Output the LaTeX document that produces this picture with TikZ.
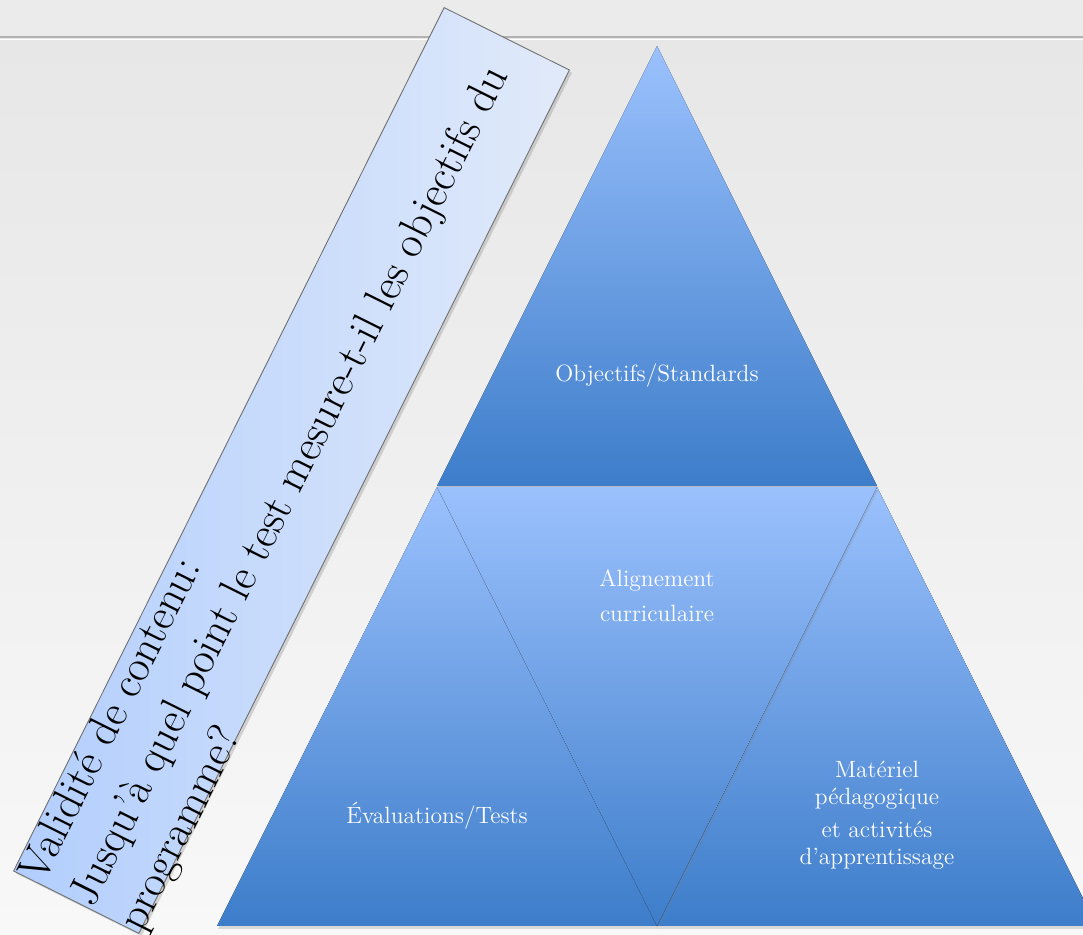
\documentclass[tikz,border=0pt]{standalone}
\usepackage{tikz}
\usetikzlibrary{shadows}

\definecolor{bgtop}{HTML}{E7E7E7}
\definecolor{bgbottom}{HTML}{F8F8F8}
\definecolor{bgstrip}{HTML}{EBEBEB}
\definecolor{stripline}{HTML}{B2B2B2}
\definecolor{trilight}{HTML}{9BC1FD}
\definecolor{tridark}{HTML}{3D7DCA}
\definecolor{boxlight}{HTML}{E1EAFA}
\definecolor{boxdark}{HTML}{B2CEFD}
\definecolor{boxline}{HTML}{6E6E6E}

\begin{document}
\begin{tikzpicture}[x=0.02cm, y=-0.02cm,
	tri/.style={top color=trilight, bottom color=tridark, draw=none,
		drop shadow={opacity=0.25, shadow xshift=0.6pt, shadow yshift=-1.6pt}},
	tritext/.style={text=white, align=center, font=\fontsize{13.4}{15.2}\selectfont},
	valbox/.style={draw=boxline, line width=0.5pt, left color=boxdark, right color=boxlight,
		drop shadow={opacity=0.3, shadow xshift=1.5pt, shadow yshift=-1.5pt}}]
	\useasboundingbox (0,0) rectangle (1083,935);
	
	\fill[top color=bgtop, bottom color=bgbottom] (0,38) rectangle (1083,935);
	\fill[bgstrip] (0,0) rectangle (1083,37);
	\draw[stripline, line width=1.3pt] (0,37) -- (1083,37);
	\draw[white, line width=0.6pt] (0,39.5) -- (1083,39.5);
	
	\fill[tri] (657,46) -- (877,486) -- (437,486) -- cycle;
	\fill[tri] (437,487) -- (657,926) -- (217,926) -- cycle;
	\fill[tri] (877,487) -- (1097,926) -- (657,926) -- cycle;
	\fill[tri] (437,487) -- (877,487) -- (657,926) -- cycle;
	
	\node[tritext] (obj) at (657,376) {Objectifs/Standards};
	\node[tritext] (align) at (657,596) {Alignement\\[4.6pt]curriculaire};
	\node[tritext] (eval) at (437,816) {Évaluations/Tests};
	\node[tritext] (mat) at (877,815) {Matériel\\pédagogique\\[3.6pt]et activités\\d’apprentissage};
	
	\node[valbox, rotate=63.5, minimum width=19.3cm, minimum height=2.8cm, inner sep=0pt] (box) at (291.5,470.5) {};
	\node[rotate=63.5, anchor=north west, align=left, inner sep=1pt,
		font=\fontsize{25.3}{31.5}\selectfont] (valtext) at (box.north west)
		{Validité de contenu:\\Jusqu’à quel point le test mesure-t-il les objectifs du\\programme?};
\end{tikzpicture}
\end{document}
